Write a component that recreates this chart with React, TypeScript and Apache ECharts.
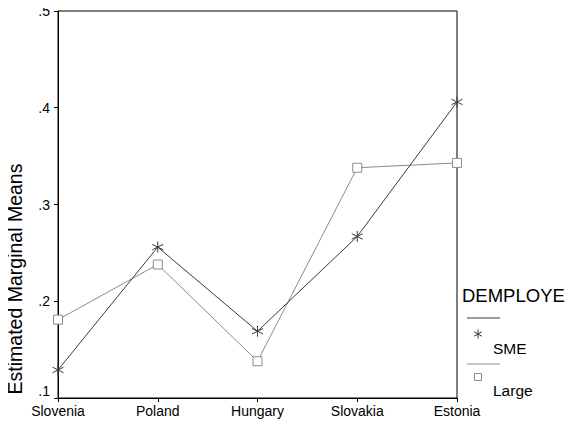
import React, { useEffect, useRef } from "react";
import * as echarts from "echarts";

const categories = ["Slovenia", "Poland", "Hungary", "Slovakia", "Estonia"];
const smeValues = [0.129, 0.256, 0.169, 0.267, 0.406];
const largeValues = [0.181, 0.238, 0.138, 0.338, 0.343];
const yTicks = [0.1, 0.2, 0.3, 0.4, 0.5];

const SME_COLOR = "#3a3a3a";
const LARGE_COLOR = "#8c8c8c";
const STAR = "path://M5 0 L5 10 M0.67 2.5 L9.33 7.5 M0.67 7.5 L9.33 2.5";
const FONT = "Liberation Sans, Arial, sans-serif";

export default function App() {
  const ref = useRef<HTMLDivElement>(null);
  useEffect(() => {
    if (!ref.current) return;
    const chart = echarts.init(ref.current, null, { renderer: "svg" });
    const starLines = (cx: number, cy: number, r: number) => [
      { type: "line", shape: { x1: cx, y1: cy - r, x2: cx, y2: cy + r }, style: { stroke: SME_COLOR, lineWidth: 1 } },
      { type: "line", shape: { x1: cx - r * 0.866, y1: cy - r / 2, x2: cx + r * 0.866, y2: cy + r / 2 }, style: { stroke: SME_COLOR, lineWidth: 1 } },
      { type: "line", shape: { x1: cx - r * 0.866, y1: cy + r / 2, x2: cx + r * 0.866, y2: cy - r / 2 }, style: { stroke: SME_COLOR, lineWidth: 1 } },
    ];
    chart.setOption({
      animation: false,
      backgroundColor: "#ffffff",
      textStyle: { fontFamily: FONT },
      grid: {
        left: 58,
        right: 116,
        top: 11,
        bottom: 30,
        show: true,
        borderColor: "#000",
        borderWidth: 1,
      },
      xAxis: {
        type: "category",
        data: categories,
        boundaryGap: false,
        axisLine: { lineStyle: { color: "#000", width: 1 } },
        axisTick: { show: true, length: 4, lineStyle: { color: "#000" } },
        axisLabel: { color: "#000", fontSize: 14, margin: 6, fontFamily: FONT },
        splitLine: { show: false },
      },
      yAxis: {
        type: "value",
        min: yTicks[0],
        max: yTicks[yTicks.length - 1],
        interval: 0.1,
        axisLine: { show: true, lineStyle: { color: "#000", width: 1 } },
        axisTick: { show: true, length: 4, lineStyle: { color: "#000" } },
        axisLabel: {
          color: "#000",
          fontSize: 14,
          margin: 8,
          fontFamily: FONT,
          verticalAlignMinLabel: "bottom",
          formatter: (v: number) => v.toFixed(1).replace(/^0/, ""),
        },
        splitLine: { show: false },
      },
      series: [
        {
          name: "SME",
          type: "line",
          data: smeValues,
          symbol: STAR,
          symbolSize: 11,
          lineStyle: { color: SME_COLOR, width: 1 },
          itemStyle: { color: "none", borderColor: SME_COLOR, borderWidth: 1 },
          z: 3,
        },
        {
          name: "Large",
          type: "line",
          data: largeValues,
          symbol: "rect",
          symbolSize: 9,
          lineStyle: { color: LARGE_COLOR, width: 1 },
          itemStyle: { color: "#fff", borderColor: LARGE_COLOR, borderWidth: 1 },
          z: 2,
        },
      ],
      graphic: [
        {
          type: "text",
          x: 15,
          y: 279,
          rotation: Math.PI / 2,
          style: {
            text: "Estimated Marginal Means",
            fontSize: 19.5,
            fill: "#000",
            fontFamily: FONT,
            align: "center",
            verticalAlign: "middle",
          },
        },
        {
          type: "text",
          x: 462,
          y: 295,
          style: { text: "DEMPLOYE", fontSize: 18.5, fill: "#000", fontFamily: FONT, verticalAlign: "middle" },
        },
        {
          type: "line",
          shape: { x1: 467, y1: 318, x2: 500, y2: 318 },
          style: { stroke: SME_COLOR, lineWidth: 1 },
        },
        { type: "group", children: starLines(478, 334, 4.5) },
        {
          type: "text",
          x: 493,
          y: 348,
          style: { text: "SME", fontSize: 15.5, fill: "#000", fontFamily: FONT, verticalAlign: "middle" },
        },
        {
          type: "line",
          shape: { x1: 467, y1: 364, x2: 500, y2: 364 },
          style: { stroke: LARGE_COLOR, lineWidth: 1 },
        },
        {
          type: "rect",
          shape: { x: 474.5, y: 373.5, width: 7, height: 7 },
          style: { fill: "#fff", stroke: LARGE_COLOR, lineWidth: 1 },
        },
        {
          type: "text",
          x: 493,
          y: 390,
          style: { text: "Large", fontSize: 15.5, fill: "#000", fontFamily: FONT, verticalAlign: "middle" },
        },
      ],
    });
    return () => chart.dispose();
  }, []);
  return <div ref={ref} style={{ width: 573, height: 428, margin: -8 }} />;
}
